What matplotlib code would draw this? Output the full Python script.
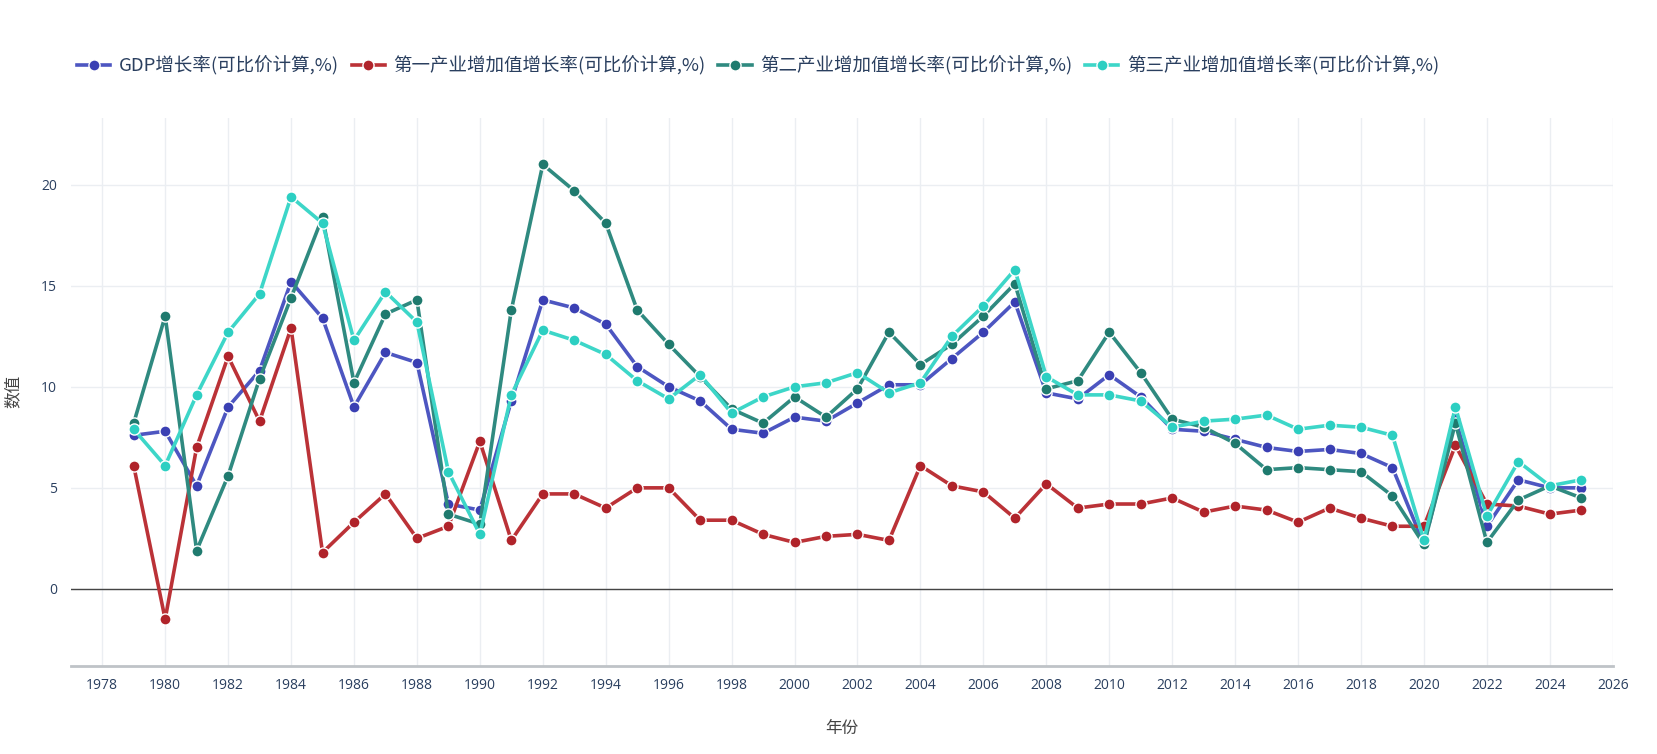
import matplotlib
matplotlib.use("Agg")
import matplotlib.pyplot as plt
from matplotlib.ticker import MultipleLocator

plt.rcParams['font.family'] = ['Noto Sans CJK SC', 'DejaVu Sans']

years = list(range(1979, 2026))

gdp = [7.6, 7.8, 5.1, 9.0, 10.8, 15.2, 13.4, 9.0, 11.7, 11.2, 4.2, 3.9, 9.3, 14.3,
       13.9, 13.1, 11.0, 10.0, 9.3, 7.9, 7.7, 8.5, 8.3, 9.2, 10.1, 10.1, 11.4, 12.7,
       14.2, 9.7, 9.4, 10.6, 9.5, 7.9, 7.8, 7.4, 7.0, 6.8, 6.9, 6.7, 6.0, 2.2, 8.4,
       3.1, 5.4, 5.0, 5.0]
primary = [6.1, -1.5, 7.0, 11.5, 8.3, 12.9, 1.8, 3.3, 4.7, 2.5, 3.1, 7.3, 2.4, 4.7,
           4.7, 4.0, 5.0, 5.0, 3.4, 3.4, 2.7, 2.3, 2.6, 2.7, 2.4, 6.1, 5.1, 4.8,
           3.5, 5.2, 4.0, 4.2, 4.2, 4.5, 3.8, 4.1, 3.9, 3.3, 4.0, 3.5, 3.1, 3.1, 7.1,
           4.2, 4.1, 3.7, 3.9]
secondary = [8.2, 13.5, 1.9, 5.6, 10.4, 14.4, 18.4, 10.2, 13.6, 14.3, 3.7, 3.2, 13.8,
             21.0, 19.7, 18.1, 13.8, 12.1, 10.5, 8.9, 8.2, 9.5, 8.5, 9.9, 12.7, 11.1,
             12.1, 13.5, 15.1, 9.9, 10.3, 12.7, 10.7, 8.4, 8.0, 7.2, 5.9, 6.0, 5.9,
             5.8, 4.6, 2.2, 8.2, 2.3, 4.4, 5.1, 4.5]
tertiary = [7.9, 6.1, 9.6, 12.7, 14.6, 19.4, 18.1, 12.3, 14.7, 13.2, 5.8, 2.7, 9.6,
            12.8, 12.3, 11.6, 10.3, 9.4, 10.6, 8.7, 9.5, 10.0, 10.2, 10.7, 9.7, 10.2,
            12.5, 14.0, 15.8, 10.5, 9.6, 9.6, 9.3, 8.0, 8.3, 8.4, 8.6, 7.9, 8.1, 8.0,
            7.6, 2.4, 9.0, 3.6, 6.3, 5.1, 5.4]

series_names = ['GDP增长率(可比价计算,%)', '第一产业增加值增长率(可比价计算,%)',
                '第二产业增加值增长率(可比价计算,%)', '第三产业增加值增长率(可比价计算,%)']
line_colors = ['#4d56c1', '#bb3237', '#2f8a80', '#3dd6c8']
marker_colors = ['#3a3fb3', '#b0232a', '#1f7a6e', '#2ccfc2']

x_ticks = list(range(1978, 2027, 2))
x_label = '年份'
y_label = '数值'

fig = plt.figure(figsize=(16.57, 7.54), dpi=100)
ax = fig.add_axes([0.0427, 0.1171, 0.9306, 0.7264])

ax.set_xlim(1977.0, 2026.0)
ax.set_ylim(-3.8, 23.3)

ax.set_xticks(x_ticks)
ax.yaxis.set_major_locator(MultipleLocator(5))
ax.grid(True, color='#ebeef2', linewidth=1.0)
ax.set_axisbelow(True)
for s in ['top', 'right', 'left']:
    ax.spines[s].set_visible(False)
ax.spines['bottom'].set_color('#bfc3c7')
ax.spines['bottom'].set_linewidth(2.0)
ax.axhline(0, color='#444444', linewidth=1.0, zorder=1.5)

ax.tick_params(axis='both', length=0, labelsize=10, labelcolor='#2a3f5f')
ax.tick_params(axis='x', pad=9)
ax.tick_params(axis='y', pad=10)
for lab in ax.get_xticklabels() + ax.get_yticklabels():
    lab.set_family(['Open Sans', 'DejaVu Sans'])

all_series = [gdp, primary, secondary, tertiary]
handles = []
for i, (vals, name) in enumerate(zip(all_series, series_names)):
    h, = ax.plot(years, vals, color=line_colors[i], linewidth=2.6,
                 marker='o', markersize=8, markerfacecolor=marker_colors[i],
                 markeredgecolor='white', markeredgewidth=1.0, label=name,
                 zorder=3 + i, solid_joinstyle='round')
    handles.append(h)

ax.set_xlabel(x_label, fontsize=12, color='#444444', labelpad=19)
ax.set_ylabel(y_label, fontsize=12, color='#444444', labelpad=14)

leg = fig.legend(handles=handles, loc='center left', bbox_to_anchor=(0.0465, 0.913),
                 ncol=4, frameon=False, fontsize=13.3, handlelength=1.8,
                 handletextpad=0.45, columnspacing=0.7, borderpad=0,
                 borderaxespad=0, labelcolor='#2a3f5f')

fig.savefig('out.png', dpi=100, facecolor='white')
